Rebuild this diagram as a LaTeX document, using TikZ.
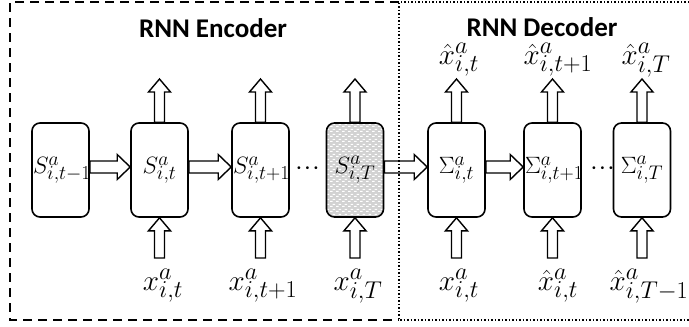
\documentclass[tikz,border=0pt]{standalone}
\usepackage{fontspec}
\newfontfamily\titlefont{Carlito}
\usetikzlibrary{calc,patterns}
\pgfdeclarelayer{bg}
\pgfsetlayers{bg,main}
\pgfdeclarepatternformonly{wdash}{\pgfpointorigin}{\pgfpoint{6pt}{5pt}}{\pgfpoint{6pt}{5pt}}{%
  \pgfpathrectangle{\pgfpoint{0pt}{0pt}}{\pgfpoint{3pt}{1.2pt}}%
  \pgfpathrectangle{\pgfpoint{3pt}{2.5pt}}{\pgfpoint{3pt}{1.2pt}}%
  \pgfusepath{fill}}
\newcommand\harr[2]{\path[hollow] let \p1=(#1.east), \p2=(#2.west) in
  (\x1,\y1+9pt) -- (\x2-13pt,\y1+9pt) -- (\x2-13pt,\y1+15.5pt) -- (\x2,\y1+3pt)
  -- (\x2-13pt,\y1-9.5pt) -- (\x2-13pt,\y1-3pt) -- (\x1,\y1-3pt) -- cycle;}
\newcommand\uarr[2]{\path[hollow] let \p1=(#1), \p2=(#2) in
  (\x1-5pt,\y1) -- (\x1-5pt,\y2-13pt) -- (\x1-11pt,\y2-13pt) -- (\x1,\y2)
  -- (\x1+11pt,\y2-13pt) -- (\x1+5pt,\y2-13pt) -- (\x1+5pt,\y1) -- cycle;}
\newcommand\biglab[1]{\scalebox{1.17}{$#1$}}
\newcommand\boxlab[1]{\scalebox{0.95}{$#1$}}
\newcommand\threedots{\textbullet\kern0.8pt\textbullet\kern0.8pt\textbullet}
\begin{document}
\begin{tikzpicture}[x=1pt,y=-1pt,
  box/.style={draw, line width=1.6pt, rounded corners=8pt, minimum width=57pt,
    text width=55pt, align=center,
    minimum height=94pt, inner sep=0pt, fill=white,
    font=\fontsize{24.88}{30}\selectfont},
  graybox/.style={box, fill=none, preaction={fill=gray!35}, pattern=wdash, pattern color=white},
  hollow/.style={draw, line width=1.4pt, fill=white, line join=miter},
  lbl/.style={font=\fontsize{24.88}{30}\selectfont, inner sep=0pt},
  ttl/.style={font=\titlefont\bfseries\fontsize{27}{32}\selectfont, inner sep=0pt},
  dotsn/.style={font=\fontsize{10}{10}\selectfont, inner sep=0pt}]
\useasboundingbox (0,0) rectangle (689,327);
% frames
\draw[line width=1.8pt, dash pattern=on 9pt off 6pt] (399,2) -- (10,2) -- (10,320) -- (399,320);
\draw[line width=1.5pt, dash pattern=on 1.5pt off 2pt] (689,2) -- (399,2) -- (399,320) -- (689,320);
% titles
\node[ttl] (enc) at (213,28) {RNN Encoder};
\node[ttl] (dec) at (542,27) {RNN Decoder};
% boxes
\node[box] (s1) at (60.5,170) {\boxlab{S^a_{i,t-1}}};
\node[box] (s2) at (159.5,170) {\boxlab{S^a_{i,t}}};
\node[box] (s3) at (260.5,170) {\boxlab{S^a_{i,t+1}}};
\node[graybox] (s4) at (355,170) {\boxlab{S^a_{i,T}}};
\node[box] (d1) at (456.5,170) {\boxlab{\Sigma^a_{i,t}}};
\node[box] (d2) at (552.5,170) {\boxlab{\Sigma^a_{i,t+1}}};
\node[box] (d3) at (642,170) {\boxlab{\Sigma^a_{i,T}}};
\node[dotsn] (dot1) at (307.5,169) {\threedots};
\node[dotsn] (dot2) at (602.5,169) {\threedots};
% free ends
\foreach \bx/\xx in {s2/159.5, s3/260.5, s4/355, d1/456.5, d2/552.5, d3/642}{
  \coordinate (\bx t) at (\xx,79);
  \coordinate (\bx b) at (\xx,258);
}
% labels
\node[lbl] (o1) at (459,60) {\biglab{\hat{x}^a_{i,t}}};
\node[lbl] (o2) at (558,60) {\biglab{\hat{x}^a_{i,t+1}}};
\node[lbl] (o3) at (646,60) {\biglab{\hat{x}^a_{i,T}}};
\node[lbl] (i1) at (163,286) {\biglab{x^a_{i,t}}};
\node[lbl] (i2) at (263,286) {\biglab{x^a_{i,t+1}}};
\node[lbl] (i3) at (358,286) {\biglab{x^a_{i,T}}};
\node[lbl] (i4) at (459,286) {\biglab{x^a_{i,t}}};
\node[lbl] (i5) at (558,286) {\biglab{\hat{x}^a_{i,t}}};
\node[lbl] (i6) at (649,286) {\biglab{\hat{x}^a_{i,T-1}}};
% arrows
\begin{pgfonlayer}{bg}
\harr{s1}{s2}
\harr{s2}{s3}
\harr{s4}{d1}
\harr{d1}{d2}
\foreach \bx in {s2,s3,s4,d1,d2,d3}{
  \uarr{\bx.north}{\bx t}
  \uarr{\bx b}{\bx.south}
}
\end{pgfonlayer}
\end{tikzpicture}
\end{document}
